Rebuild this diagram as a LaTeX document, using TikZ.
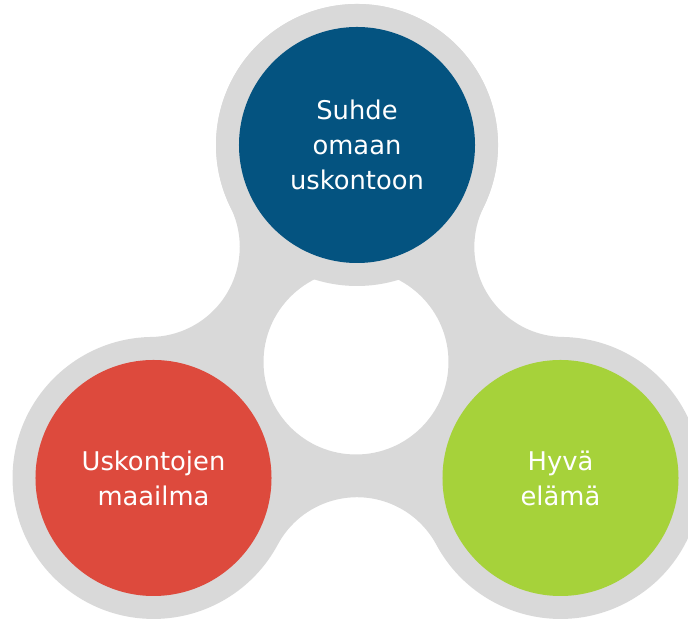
\documentclass[tikz,border=0pt]{standalone}
\usepackage{fontspec}
\setmainfont{DejaVu Sans}
\usetikzlibrary{calc}

\definecolor{sininen}{RGB}{4,83,128}
\definecolor{punainen}{RGB}{221,74,61}
\definecolor{vihrea}{RGB}{166,210,58}
\definecolor{harmaa}{RGB}{217,217,217}

\tikzset{
	pallo/.style={circle, inner sep=0pt, minimum size=7.08cm, text=white, align=center, font=\fontsize{22}{30}\selectfont},
	runko/.style={fill=harmaa, even odd rule}
}

\begin{document}
\begin{tikzpicture}[x=0.03cm, y=0.03cm]
\useasboundingbox (0,0) rectangle (688,619);

%Keskipisteet
\coordinate (B) at (357,474);
\coordinate (L) at (153.5,141);
\coordinate (R) at (560.5,141);
\coordinate (H) at (356,257);

%Harmaa runko
\fill[runko] ($(B)+(-26.2:141)$)
	arc[start angle=-26.2, end angle=206.2, radius=141]
	arc[start angle=26.2, end angle=-89.06, radius=90]
	arc[start angle=90.94, end angle=331.76, radius=141]
	arc[start angle=151.76, end angle=28.24, radius=90]
	arc[start angle=208.24, end angle=449.06, radius=141]
	arc[start angle=269.06, end angle=153.8, radius=90]
	-- cycle
	(H) circle[radius=92.5];
\fill[harmaa] (B) circle[radius=141];

%Pallot
\node[pallo, fill=sininen] (suhde) at (B) {Suhde\\omaan\\uskontoon};
\node[pallo, fill=punainen] (maailma) at (L) {Uskontojen\\maailma};
\node[pallo, fill=vihrea] (hyva) at (R) {Hyvä\\elämä};

\end{tikzpicture}
\end{document}
